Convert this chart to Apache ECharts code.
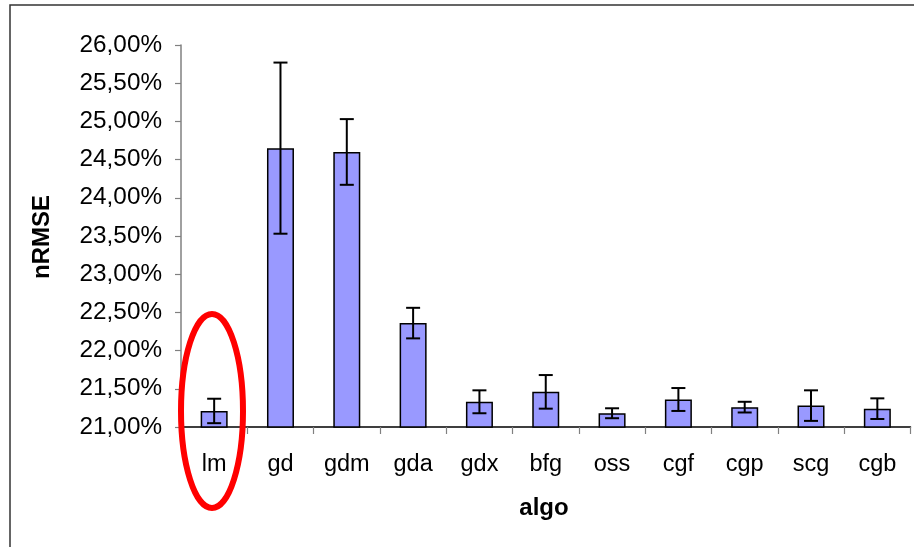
<!DOCTYPE html>
<html>
<head>
<meta charset="utf-8">
<script src="https://cdn.jsdelivr.net/npm/echarts@6/dist/echarts.min.js"></script>
<style>
html,body{margin:0;padding:0;background:#fff;}
#c{width:914px;height:547px;}
</style>
</head>
<body>
<div id="c"></div>
<script>
var categories = ['lm','gd','gdm','gda','gdx','bfg','oss','cgf','cgp','scg','cgb'];
var values = [21.21, 24.65, 24.60, 22.36, 21.33, 21.46, 21.18, 21.36, 21.26, 21.28, 21.24];
var errors = [0.16, 1.12, 0.43, 0.20, 0.15, 0.22, 0.065, 0.15, 0.07, 0.20, 0.135];
var yTicks = { min: 21, max: 26, step: 0.5 };
var xTitle = 'algo';
var yTitle = 'nRMSE';

var font = '"Liberation Sans", Arial, sans-serif';
var chart = echarts.init(document.getElementById('c'), null, {renderer: 'canvas'});

var errData = categories.map(function (c, i) { return [i, values[i] - errors[i], values[i] + errors[i]]; });

chart.setOption({
  animation: false,
  backgroundColor: '#fff',
  grid: { left: 181, right: 3.5, top: 45, bottom: 120, containLabel: false },
  xAxis: {
    type: 'category',
    data: categories,
    boundaryGap: true,
    axisLine: { show: true, lineStyle: { color: '#000', width: 1.5 } },
    axisTick: { show: true, length: 7, inside: false, alignWithLabel: false, lineStyle: { color: '#808080', width: 1.2 } },
    axisLabel: { color: '#000', fontSize: 23.5, fontFamily: font, margin: 26 },
    splitLine: { show: false }
  },
  yAxis: {
    type: 'value',
    min: yTicks.min, max: yTicks.max, interval: yTicks.step,
    axisLine: { show: true, lineStyle: { color: '#808080', width: 1.5 } },
    axisTick: { show: true, length: 6, inside: false, lineStyle: { color: '#808080', width: 1.2 } },
    axisLabel: {
      color: '#000', fontSize: 24.3, fontFamily: font, margin: 19,
      formatter: function (v) { return v.toFixed(2).replace('.', ',') + '%'; }
    },
    splitLine: { show: false }
  },
  graphic: [
    { type: 'rect', shape: { x: 10, y: 5, width: 930, height: 570 }, style: { fill: 'none', stroke: '#333', lineWidth: 1.5 }, z: 0, silent: true },
    { type: 'text', x: 544, y: 508, style: { text: xTitle, font: 'bold 24px ' + font, fill: '#000', textAlign: 'center', textVerticalAlign: 'middle' }, z: 10 },
    { type: 'text', x: 42, y: 237, rotation: Math.PI / 2, style: { text: yTitle, font: 'bold 24px ' + font, fill: '#000', textAlign: 'center', textVerticalAlign: 'middle' }, z: 10 },
    { type: 'ellipse', shape: { cx: 212, cy: 411, rx: 31, ry: 97 }, style: { fill: 'none', stroke: '#ff0000', lineWidth: 6 }, z: 100 }
  ],
  series: [
    {
      type: 'bar',
      data: values,
      barWidth: 27,
      itemStyle: { color: '#9999ff', borderColor: '#000', borderWidth: 1.5 },
      z: 2
    },
    {
      type: 'custom',
      data: errData,
      z: 5,
      renderItem: function (params, api) {
        var x = api.value(0);
        var lo = api.coord([x, api.value(1)]);
        var hi = api.coord([x, api.value(2)]);
        var hw = 7;
        var st = { stroke: '#000', lineWidth: 2 };
        return {
          type: 'group',
          children: [
            { type: 'line', shape: { x1: lo[0], y1: lo[1], x2: hi[0], y2: hi[1] }, style: st },
            { type: 'line', shape: { x1: hi[0] - hw, y1: hi[1], x2: hi[0] + hw, y2: hi[1] }, style: st },
            { type: 'line', shape: { x1: lo[0] - hw, y1: lo[1], x2: lo[0] + hw, y2: lo[1] }, style: st }
          ]
        };
      }
    }
  ]
});
</script>
</body>
</html>
